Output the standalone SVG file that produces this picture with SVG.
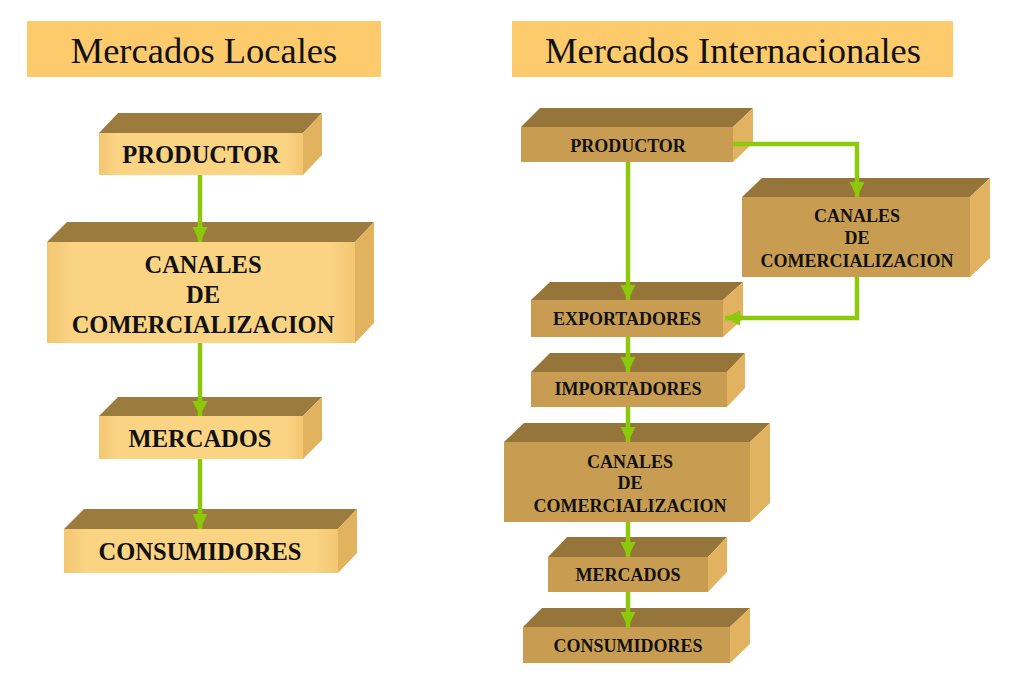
<svg xmlns="http://www.w3.org/2000/svg" width="1024" height="690" viewBox="0 0 1024 690">
<style>
.title{fill:#FDCB6C}
.tt{font-family:"Liberation Serif","Times New Roman",serif;font-size:36.5px;fill:#111;text-anchor:middle}
.lf{fill:url(#gl)}
.lt{fill:#9C7B3E}
.ls{fill:#E2B35E}
.df{fill:#C89D52}
.dt{fill:#957539}
.ds{fill:#E1B25F}
.lb{font-family:"Liberation Serif","Times New Roman",serif;font-weight:bold;font-size:24.5px;fill:#111;text-anchor:middle}
.rb{font-family:"Liberation Serif","Times New Roman",serif;font-weight:bold;font-size:18px;fill:#111;text-anchor:middle}
.c{fill:none;stroke:#8CC90A;stroke-width:4.5}
</style>
<defs>
<linearGradient id="gl" x1="0" y1="0" x2="1" y2="0">
<stop offset="0" stop-color="#F3C671"/>
<stop offset="0.08" stop-color="#FAD383"/>
<stop offset="0.92" stop-color="#FAD383"/>
<stop offset="1" stop-color="#F3C671"/>
</linearGradient>
<marker id="ah" viewBox="0 0 10 10" refX="10" refY="5" markerWidth="3.4" markerHeight="3.4" orient="auto" markerUnits="strokeWidth">
<path d="M0,0 L10,5 L0,10 z" fill="#8CC90A"/>
</marker>
</defs>
<rect width="1024" height="690" fill="#fff"/>

<g id="title-local">
<rect class="title" x="27" y="21" width="354" height="56"/>
<text class="tt" x="204" y="63">Mercados Locales</text>
</g>
<g id="title-intl">
<rect class="title" x="512" y="21" width="441" height="56"/>
<text class="tt" x="733" y="63">Mercados Internacionales</text>
</g>

<!-- Left column -->
<g id="l-productor">
<polygon class="lt" points="99,133 118,113 322,113 303,133"/>
<polygon class="ls" points="303,133 322,113 322,155 303,175"/>
<rect class="lf" x="99" y="133" width="204" height="42"/>
<text class="lb" x="201" y="163">PRODUCTOR</text>
</g>
<g id="l-canales">
<polygon class="lt" points="47,242 67,222 374,222 355,242"/>
<polygon class="ls" points="355,242 374,222 374,323 355,343"/>
<rect class="lf" x="47" y="242" width="308" height="101"/>
<text class="lb" x="203" y="273">CANALES</text>
<text class="lb" x="203" y="303">DE</text>
<text class="lb" x="203" y="333">COMERCIALIZACION</text>
</g>
<g id="l-mercados">
<polygon class="lt" points="99,416 118,397 322,397 303,416"/>
<polygon class="ls" points="303,416 322,397 322,440 303,459"/>
<rect class="lf" x="99" y="416" width="204" height="43"/>
<text class="lb" x="200" y="447">MERCADOS</text>
</g>
<g id="l-consumidores">
<polygon class="lt" points="64,529 84,509 357,509 338,529"/>
<polygon class="ls" points="338,529 357,509 357,553 338,573"/>
<rect class="lf" x="64" y="529" width="274" height="44"/>
<text class="lb" x="200" y="560">CONSUMIDORES</text>
</g>

<!-- Right column -->
<g id="r-productor">
<polygon class="dt" points="521,127 540,108 753,108 733,127"/>
<polygon class="ds" points="733,127 753,108 753,143 733,162"/>
<rect class="df" x="521" y="127" width="212" height="35"/>
<text class="rb" x="628" y="152">PRODUCTOR</text>
</g>
<g id="r-canales1">
<polygon class="dt" points="742,197 762,178 990,178 970,197"/>
<polygon class="ds" points="970,197 990,178 990,258 970,277"/>
<rect class="df" x="742" y="197" width="228" height="80"/>
<text class="rb" x="857" y="222">CANALES</text>
<text class="rb" x="857" y="244">DE</text>
<text class="rb" x="857" y="267">COMERCIALIZACION</text>
</g>
<g id="r-exportadores">
<polygon class="dt" points="531,300 550,282 743,282 723,300"/>
<polygon class="ds" points="723,300 743,282 743,319 723,337"/>
<rect class="df" x="531" y="300" width="192" height="37"/>
<text class="rb" x="627" y="325">EXPORTADORES</text>
</g>
<g id="r-importadores">
<polygon class="dt" points="531,372 550,353 745,353 727,372"/>
<polygon class="ds" points="727,372 745,353 745,388 727,407"/>
<rect class="df" x="531" y="372" width="196" height="35"/>
<text class="rb" x="628" y="395">IMPORTADORES</text>
</g>
<g id="r-canales2">
<polygon class="dt" points="504,442 524,423 770,423 750,442"/>
<polygon class="ds" points="750,442 770,423 770,503 750,522"/>
<rect class="df" x="504" y="442" width="246" height="80"/>
<text class="rb" x="630" y="468">CANALES</text>
<text class="rb" x="630" y="489">DE</text>
<text class="rb" x="630" y="512">COMERCIALIZACION</text>
</g>
<g id="r-mercados">
<polygon class="dt" points="548,557 567,537 727,537 708,557"/>
<polygon class="ds" points="708,557 727,537 727,572 708,592"/>
<rect class="df" x="548" y="557" width="160" height="35"/>
<text class="rb" x="628" y="581">MERCADOS</text>
</g>
<g id="r-consumidores">
<polygon class="dt" points="523,627 542,608 750,608 730,627"/>
<polygon class="ds" points="730,627 750,608 750,644 730,663"/>
<rect class="df" x="523" y="627" width="207" height="36"/>
<text class="rb" x="628" y="652">CONSUMIDORES</text>
</g>

<g id="connectors">
<line class="c" x1="200" y1="175" x2="200" y2="242" marker-end="url(#ah)"/>
<line class="c" x1="200" y1="343" x2="200" y2="416" marker-end="url(#ah)"/>
<line class="c" x1="200" y1="459" x2="200" y2="529" marker-end="url(#ah)"/>
<line class="c" x1="628" y1="162" x2="628" y2="300" marker-end="url(#ah)"/>
<polyline class="c" points="733,144 857,144 857,197" marker-end="url(#ah)"/>
<polyline class="c" points="857,277 857,318 725,318" marker-end="url(#ah)"/>
<line class="c" x1="628" y1="337" x2="628" y2="372" marker-end="url(#ah)"/>
<line class="c" x1="628" y1="407" x2="628" y2="442" marker-end="url(#ah)"/>
<line class="c" x1="628" y1="522" x2="628" y2="557" marker-end="url(#ah)"/>
<line class="c" x1="628" y1="592" x2="628" y2="627" marker-end="url(#ah)"/>
</g>
</svg>
